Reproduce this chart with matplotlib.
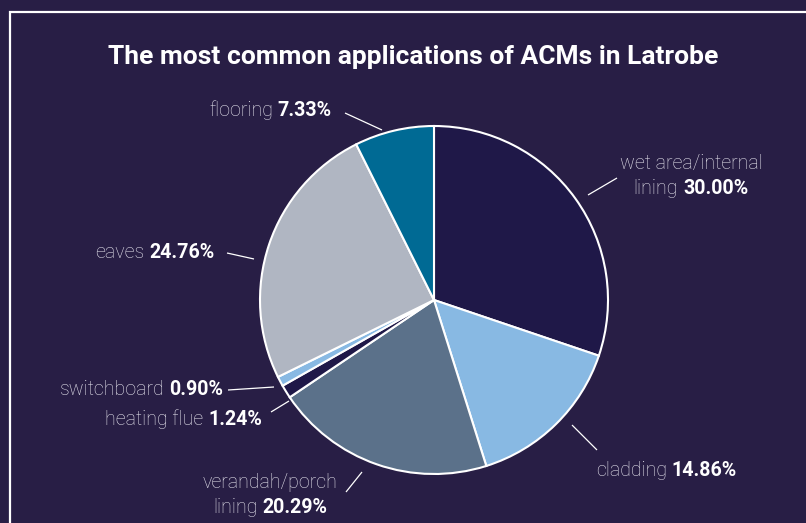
import matplotlib
matplotlib.use("Agg")
import matplotlib.pyplot as plt
from matplotlib.patches import Rectangle

# ---- data ----
categories = ["wet area/internal lining", "cladding", "verandah/porch lining",
              "heating flue", "switchboard", "eaves", "flooring"]
values = [30.00, 14.86, 20.29, 1.24, 0.90, 24.76, 7.33]
label_names = [["wet area/internal", "lining"], ["cladding"], ["verandah/porch", "lining"],
               ["heating flue"], ["switchboard"], ["eaves"], ["flooring"]]
title = "The most common applications of ACMs in Latrobe"

# ---- style / layout ----
BG = "#281e45"
colors = ["#1f1848", "#88b9e3", "#5b718a", "#1f1848", "#88b9e3", "#b0b6c2", "#006a94"]
TXT = "#e4e2ec"
W, H = 806, 523
CX, CY, R = 434, H - 300, 174
FS = 14.1
FONT = "Roboto"

# label anchor (x, first baseline y from top, ha) and leader line endpoints (px from top-left)
label_pos = [(691, 169, "center"), (596, 476, "left"), (270, 488, "center"),
             (262, 425, "right"), (223, 395, "right"), (215, 258, "right"), (332, 116, "right")]
leader = [((588, 195), (617, 178)), ((572, 425), (597, 450)), ((362, 472), (346, 492)),
          ((289, 401), (271, 412)), ((274, 387), (228, 390)), ((254, 259), (227, 253)),
          ((382, 130), (345, 113))]
LINE_GAP = 25

fig = plt.figure(figsize=(W / 100, H / 100), dpi=100, facecolor=BG)
ax = fig.add_axes([0, 0, 1, 1])
ax.set_facecolor(BG)

ax.pie(values, colors=colors, startangle=90, counterclock=False, radius=R,
       center=(CX, CY), wedgeprops=dict(edgecolor="white", linewidth=1.5))
ax.set_xlim(0, W)
ax.set_ylim(0, H)
ax.set_aspect("equal")
ax.set_position([0, 0, 1, 1])
ax.axis("off")

# border
fig.patches.append(Rectangle((9.5 / W, -0.1), 1.2, (H - 12.5) / H + 0.1,
                             transform=fig.transFigure, fill=False,
                             edgecolor="white", linewidth=1.6))

ax.text(413, H - 64, title, ha="center", va="baseline", fontsize=19,
        fontweight="bold", family=FONT, color="white")

fig.canvas.draw()
renderer = fig.canvas.get_renderer()
space = FS * 100 / 72 * 0.25


def draw_line(x, y, parts, ha):
    texts = []
    widths = []
    for s, w, c in parts:
        t = ax.text(0, y, s, fontsize=FS, fontweight=w, family=FONT, color=c,
                    va="baseline", ha="left")
        texts.append(t)
        widths.append(t.get_window_extent(renderer).width)
    total = sum(widths) + space * (len(parts) - 1)
    if ha == "right":
        start = x - total
    elif ha == "center":
        start = x - total / 2
    else:
        start = x
    for t, w in zip(texts, widths):
        t.set_x(start)
        start += w + space


for names, v, (lx, ly, ha), (p0, p1) in zip(label_names, values, label_pos, leader):
    pct = f"{v:.2f}%"
    lines = [[(n, "light", TXT)] for n in names[:-1]] + \
            [[(names[-1], "light", TXT), (pct, "bold", "white")]]
    for i, parts in enumerate(lines):
        draw_line(lx, H - (ly + i * LINE_GAP), parts, ha)
    ax.plot([p0[0], p1[0]], [H - p0[1], H - p1[1]], color="white", lw=0.9,
            solid_capstyle="butt")

fig.savefig("out.png", dpi=100, facecolor=BG)
